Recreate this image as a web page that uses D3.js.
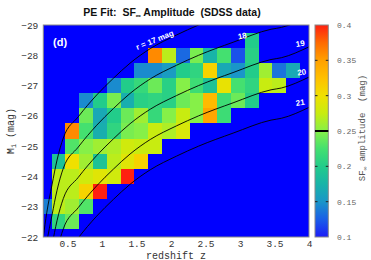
<!DOCTYPE html>
<html>
<head>
<meta charset="utf-8">
<script src="https://cdn.jsdelivr.net/npm/d3@7"></script>
<style>
  body { margin: 0; background: #fff; }
  svg text { font-family: "Liberation Mono", "DejaVu Sans Mono", monospace; white-space: pre; }
</style>
</head>
<body>
<div id="view"></div>
<script>
var width = 371, height = 260;

// bin centres (redshift columns, absolute magnitude rows)
var zBins = [0.17, 0.37, 0.57, 0.77, 0.97, 1.17, 1.37, 1.57, 1.77, 1.97,
             2.17, 2.37, 2.57, 2.77, 2.97, 3.17, 3.37, 3.57, 3.77];
var mBins = [-28.5, -28, -27.5, -27, -26.5, -26, -25.5, -25, -24.5, -24, -23.5, -23, -22.5];

// SF_inf amplitude (mag) per cell, null = no data
var _ = null;
var amp = [
  [_, _, _, _, _, _, _, _, _, _, _, _, _, _, _, 0.20, _, _, _],
  [_, _, _, _, _, _, _, _, 0.36, 0.27, 0.13, 0.245, 0.175, 0.225, 0.12, 0.205, _, _, _],
  [_, _, _, _, _, _, _, 0.145, 0.145, 0.155, 0.20, 0.21, 0.31, 0.165, 0.15, 0.20, 0.26, 0.135, 0.165],
  [_, _, _, _, _, 0.145, 0.20, 0.215, 0.24, 0.205, 0.25, 0.22, 0.19, 0.295, 0.225, 0.21, 0.275, 0.27, _],
  [_, _, _, 0.145, 0.20, 0.245, 0.17, 0.205, 0.21, 0.205, 0.24, 0.25, 0.33, 0.22, 0.24, 0.20, _, _, _],
  [_, _, _, 0.24, 0.165, 0.20, 0.24, 0.26, 0.215, 0.25, 0.275, 0.25, 0.345, 0.22, _, _, _, _, _],
  [_, _, 0.36, 0.225, 0.17, 0.21, 0.245, 0.25, 0.275, 0.265, 0.285, _, _, _, _, _, _, _, _],
  [_, _, 0.23, 0.25, 0.26, 0.265, 0.28, 0.275, 0.275, _, _, _, _, _, _, _, _, _, _],
  [_, 0.19, 0.30, 0.26, 0.19, 0.27, 0.29, 0.31, _, _, _, _, _, _, _, _, _, _, _],
  [_, 0.27, 0.27, 0.28, 0.29, 0.28, 0.40, _, _, _, _, _, _, _, _, _, _, _, _],
  [_, 0.27, 0.27, 0.31, 0.40, _, _, _, _, _, _, _, _, _, _, _, _, _, _],
  [0.14, 0.27, 0.26, 0.23, _, _, _, _, _, _, _, _, _, _, _, _, _, _, _],
  [_, 0.21, 0.24, _, _, _, _, _, _, _, _, _, _, _, _, _, _, _, _]
];

// flux limit curves: M_i = r - (DM + K)(z)
var limitMags = [17, 18, 19, 20, 21];
var limitZ   = [0.15, 0.20, 0.276, 0.349, 0.44, 0.657, 0.924, 1.165, 1.407, 1.70, 2.08, 2.40, 2.90, 3.45, 3.60, 4.0];
var limitDMK = [39.0, 39.8, 40.72, 41.54, 42.27, 42.97, 43.69, 44.24, 44.74, 45.22, 45.67, 46.0, 46.43, 46.86, 46.92, 47.28];

var xTicks = [0.5, 1, 1.5, 2, 2.5, 3, 3.5, 4];
var yTicks = [-29, -28, -27, -26, -25, -24, -23, -22];
var cTicks = [0.1, 0.15, 0.2, 0.25, 0.3, 0.35, 0.4];

var cStops = [0.10, 0.125, 0.15, 0.175, 0.20, 0.225, 0.25, 0.275, 0.30, 0.325, 0.35, 0.375, 0.40];
var cCols  = ["#1c1cf8", "#1a5ee8", "#1a96c8", "#18b4a8", "#22cc8a", "#44e070", "#86f048",
              "#c8ec10", "#f0e000", "#ffc000", "#ffa000", "#ff6a00", "#ff2010"];

var svg = d3.select("#view").append("svg")
  .attr("width", width)
  .attr("height", height);

var x = d3.scaleLinear().domain([0.15, 4]).range([43.3, 309]);
var y = d3.scaleLinear().domain([-29, -22]).range([25, 237]);
var color = d3.scaleLinear().domain(cStops).range(cCols).clamp(true);

svg.append("clipPath").attr("id", "clip")
  .append("rect").attr("x", 43.3).attr("y", 25).attr("width", 309 - 43.3).attr("height", 212);

svg.append("rect")
  .attr("x", 43.3).attr("y", 25).attr("width", 309 - 43.3).attr("height", 212)
  .style("fill", "#0000ff");

var cells = [];
amp.forEach(function(row, i) {
  row.forEach(function(v, j) {
    if (v !== null) cells.push({ z: zBins[j], m: mBins[i], v: v });
  });
});

var plot = svg.append("g").attr("clip-path", "url(#clip)");

plot.selectAll(".cell")
  .data(cells).enter()
  .append("rect")
  .attr("class", "cell")
  .attr("x", function(d) { return x(d.z - 0.1); })
  .attr("y", function(d) { return y(d.m - 0.25); })
  .attr("width", function(d) { return x(d.z + 0.1) - x(d.z - 0.1); })
  .attr("height", function(d) { return y(d.m + 0.25) - y(d.m - 0.25); })
  .style("fill", function(d) { return color(d.v); })
  .attr("shape-rendering", "crispEdges");

var line = d3.line()
  .x(function(d) { return x(d[0]); })
  .y(function(d) { return y(d[1]); })
  .curve(d3.curveMonotoneX);

plot.selectAll(".limit")
  .data(limitMags).enter()
  .append("path")
  .attr("class", "limit")
  .attr("d", function(m) {
    return line(limitZ.map(function(z, k) { return [z, m - limitDMK[k]]; }));
  })
  .style("fill", "none")
  .style("stroke", "#000")
  .style("stroke-width", 0.9);

// curve labels
var labels = [
  { t: "r = 17 mag", z: 1.78, m: -28.42, a: -22 },
  { t: "18", z: 3.04, m: -28.55, a: -12 },
  { t: "19", z: 3.88, m: -28.3, a: -10 },
  { t: "20", z: 3.9, m: -27.35, a: -8 },
  { t: "21", z: 3.88, m: -26.35, a: -10 }
];
svg.selectAll(".clabel")
  .data(labels).enter()
  .append("text")
  .attr("class", "clabel")
  .attr("transform", function(d) { return "translate(" + x(d.z) + "," + y(d.m) + ") rotate(" + d.a + ")"; })
  .attr("text-anchor", "middle")
  .style("font-family", "Liberation Sans, Arial, sans-serif")
  .style("font-weight", "bold")
  .style("font-size", "8px")
  .style("fill", "#fff")
  .text(function(d) { return d.t; });

svg.append("text")
  .attr("x", 53).attr("y", 46)
  .style("font-family", "Liberation Sans, Arial, sans-serif")
  .style("font-weight", "bold")
  .style("font-size", "11px")
  .style("fill", "#fff")
  .text("(d)");

// frame
svg.append("rect")
  .attr("x", 43.3).attr("y", 25).attr("width", 309 - 43.3).attr("height", 212)
  .style("fill", "none").style("stroke", "#8a8a8a").style("stroke-width", 1);

// axes
var xAxis = svg.append("g")
  .attr("transform", "translate(0,237)")
  .call(d3.axisBottom(x).tickValues(xTicks).tickSize(0).tickPadding(3).tickFormat(d3.format("")));
xAxis.select(".domain").remove();
xAxis.selectAll("text").style("font-family", "Liberation Mono, monospace").style("font-size", "9.5px").style("fill", "#333");

var yAxis = svg.append("g")
  .attr("transform", "translate(43.3,0)")
  .call(d3.axisLeft(y).tickValues(yTicks).tickSize(0).tickPadding(5).tickFormat(d3.format("d")));
yAxis.select(".domain").remove();
yAxis.selectAll("text").style("font-family", "Liberation Mono, monospace").style("font-size", "9.5px").style("fill", "#333");

svg.append("text")
  .attr("x", 176).attr("y", 258.5)
  .attr("text-anchor", "middle")
  .style("font-size", "10px").style("fill", "#333")
  .text("redshift z");

var yl = svg.append("text")
  .attr("transform", "translate(14,131) rotate(-90)")
  .attr("text-anchor", "middle")
  .style("font-size", "10px").style("fill", "#333");
yl.append("tspan").text("M");
yl.append("tspan").attr("dy", 2).style("font-size", "7px").text("i");
yl.append("tspan").attr("dy", -2).text(" (mag)");

// title
var title = svg.append("text")
  .attr("x", 172).attr("y", 16)
  .attr("text-anchor", "middle")
  .style("font-family", "Liberation Sans, Arial, sans-serif")
  .style("font-weight", "bold")
  .style("font-size", "10.5px")
  .style("fill", "#111");
title.append("tspan").text("PE Fit:  SF");
title.append("tspan").attr("dy", 2).style("font-size", "7px").text("\u221e");
title.append("tspan").attr("dy", -2).text(" Amplitude  (SDSS data)");

// colorbar
var cy = d3.scaleLinear().domain([0.1, 0.4]).range([237, 25]);
var defs = svg.append("defs");
var grad = defs.append("linearGradient").attr("id", "cgrad")
  .attr("x1", 0).attr("y1", 1).attr("x2", 0).attr("y2", 0);
grad.selectAll("stop")
  .data(cStops).enter()
  .append("stop")
  .attr("offset", function(d) { return (d - 0.1) / 0.3; })
  .attr("stop-color", function(d, i) { return cCols[i]; });

svg.append("rect")
  .attr("x", 315).attr("y", 25).attr("width", 13.3).attr("height", 212)
  .style("fill", "url(#cgrad)")
  .style("stroke", "#8a8a8a").style("stroke-width", 1);

svg.selectAll(".ctick")
  .data(cTicks.filter(function(t) { return t > 0.1 && t < 0.4 && t !== 0.25; })).enter()
  .append("g").attr("class", "ctick")
  .each(function(t) {
    var g = d3.select(this);
    g.append("line").attr("x1", 315).attr("x2", 317.5).attr("y1", cy(t)).attr("y2", cy(t)).style("stroke", "#222");
    g.append("line").attr("x1", 325.8).attr("x2", 328.3).attr("y1", cy(t)).attr("y2", cy(t)).style("stroke", "#222");
  });

svg.append("line")
  .attr("x1", 315).attr("x2", 328.3).attr("y1", cy(0.25)).attr("y2", cy(0.25))
  .style("stroke", "#000").style("stroke-width", 2);

svg.selectAll(".clab")
  .data(cTicks).enter()
  .append("text").attr("class", "clab")
  .attr("x", 337).attr("y", function(t) { return cy(t) + 3; })
  .style("font-size", "8px").style("fill", "#666")
  .text(function(t) { return d3.format("")(t); });

var cl = svg.append("text")
  .attr("transform", "translate(365,128) rotate(-90)")
  .attr("text-anchor", "middle")
  .style("font-size", "9px").style("fill", "#555");
cl.append("tspan").text("SF");
cl.append("tspan").attr("dy", 2).style("font-size", "6px").text("\u221e");
cl.append("tspan").attr("dy", -2).text(" amplitude  (mag)");
</script>
</body>
</html>
